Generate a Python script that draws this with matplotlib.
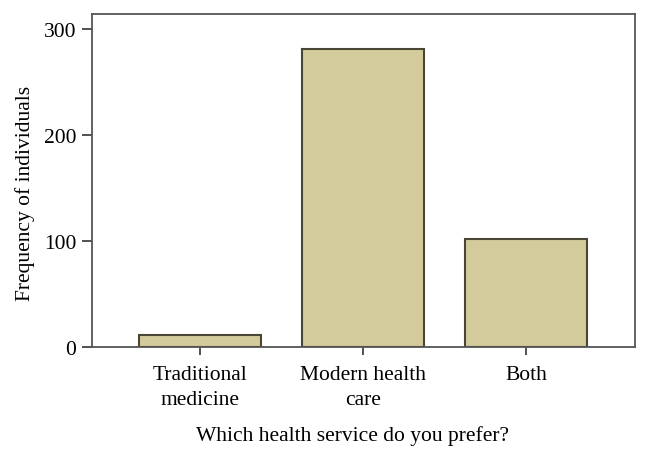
import matplotlib.pyplot as plt

categories = ['Traditional\nmedicine', 'Modern health\ncare', 'Both']
frequencies = [11, 281, 102]
y_ticks = [0, 100, 200, 300]

plt.rcParams['font.family'] = ['Liberation Serif', 'DejaVu Serif']

fig = plt.figure(figsize=(6.49, 4.60), dpi=100)
ax = fig.add_axes([0.1413, 0.2435, 0.8367, 0.7235])

x = list(range(len(categories)))
ax.bar(x, frequencies, width=0.75, color='#d3cb9b', edgecolor='#4a4636', linewidth=1.5)

ax.set_xlim(-0.665, 2.667)
ax.set_ylim(0, 314)
ax.set_xticks(x)
ax.set_xticklabels(categories, fontsize=15.5, linespacing=1.4)
ax.set_yticks(y_ticks)
ax.tick_params(axis='y', labelsize=15.5, length=7, width=1.2, color='#333333', pad=4)
ax.tick_params(axis='x', length=6, width=1.2, color='#333333', pad=7)

for s in ax.spines.values():
    s.set_color('#555555')
    s.set_linewidth(1.3)

ax.set_xlabel('Which health service do you prefer?', fontsize=15.5)
ax.xaxis.set_label_coords(0.48, -0.235)
ax.set_ylabel('Frequency of individuals', fontsize=15.5)
ax.yaxis.set_label_coords(-0.105, 0.465)

fig.savefig('out.png', dpi=100)
